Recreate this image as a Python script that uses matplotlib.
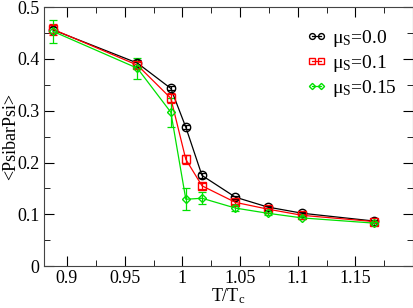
import matplotlib
matplotlib.use("Agg")
import matplotlib.pyplot as plt
from matplotlib.ticker import MultipleLocator
from matplotlib.lines import Line2D

plt.rcParams['font.family'] = ['Liberation Serif', 'DejaVu Serif']
plt.rcParams['mathtext.fontset'] = 'custom'
plt.rcParams['mathtext.rm'] = 'Liberation Serif'
plt.rcParams['mathtext.it'] = 'Liberation Serif'

T = [0.888, 0.961, 0.990, 1.003, 1.017, 1.046, 1.074, 1.104, 1.166]
psi_00 = [0.456, 0.392, 0.343, 0.268, 0.175, 0.133, 0.114, 0.102, 0.087]
err_00 = [0.006, 0.005, 0.004, 0.004, 0.004, 0.003, 0.002, 0.002, 0.002]
psi_01 = [0.457, 0.388, 0.324, 0.206, 0.155, 0.123, 0.110, 0.098, 0.086]
err_01 = [0.010, 0.006, 0.010, 0.008, 0.006, 0.004, 0.003, 0.002, 0.002]
psi_015 = [0.453, 0.382, 0.297, 0.129, 0.131, 0.112, 0.102, 0.093, 0.083]
err_015 = [0.022, 0.020, 0.028, 0.021, 0.012, 0.005, 0.004, 0.003, 0.003]
labels = [r'$\mu_{\rm S}$=0.0', r'$\mu_{\rm S}$=0.1', r'$\mu_{\rm S}$=0.15']

fig = plt.figure(figsize=(4.14, 3.08), dpi=100)
ax = fig.add_axes([0.106, 0.136, 0.892, 0.841])

series = [(psi_00, err_00, 'black', 'o', 6), (psi_01, err_01, 'red', 's', 5.5),
          (psi_015, err_015, '#00e000', 'D', 4.5)]
handles = []
for (y, e, c, m, ms), lab in zip(series, labels):
    ax.errorbar(T, y, yerr=e, color=c, marker=m, mfc='none', mec=c, ms=ms, lw=0.9,
                elinewidth=0.9, capsize=3, capthick=0.9)
    handles.append(Line2D([], [], color=c, marker=m, mfc='none', mec=c,
                          ms=ms * 0.7, lw=0.9, label=lab))

ax.set_xlim(0.88, 1.2)
ax.set_ylim(0, 0.5)
ax.xaxis.set_minor_locator(MultipleLocator(0.025))
ax.yaxis.set_minor_locator(MultipleLocator(0.05))
ax.set_xticks([0.9, 0.95, 1.0, 1.05, 1.1, 1.15])
ax.set_xticklabels(['0.9', '0.95', '1', '1.05', '1.1', '1.15'])
ax.set_yticks([0, 0.1, 0.2, 0.3, 0.4, 0.5])
ax.set_yticklabels(['0', '0.1', '0.2', '0.3', '0.4', '0.5'])
ax.tick_params(which='both', direction='in', top=True, right=True, labelsize=13, pad=3)
ax.tick_params(which='major', length=7)
ax.tick_params(which='minor', length=4)
for s in ax.spines.values():
    s.set_color('#444444')
ax.set_xlabel(r'T/T$_{\rm c}$', fontsize=13, labelpad=-1)
ax.set_ylabel('<PsibarPsi>', fontsize=13)
ax.yaxis.set_label_coords(-0.066, 0.5)

ax.legend(handles=handles, loc='upper left', bbox_to_anchor=(0.71, 0.92), frameon=False,
          fontsize=14, handlelength=1.05, handletextpad=0.3, labelspacing=0.2,
          numpoints=2, borderaxespad=0, borderpad=0)

fig.savefig('out.png', dpi=100)
